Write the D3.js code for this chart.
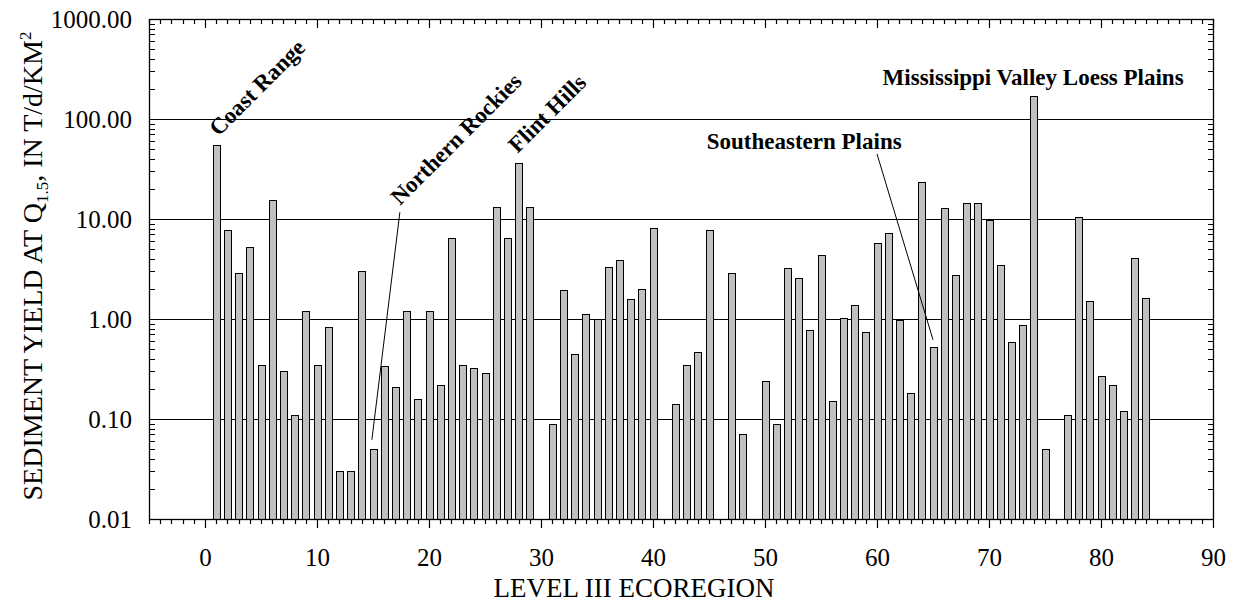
<!DOCTYPE html>
<html><head><meta charset="utf-8">
<script src="https://cdn.jsdelivr.net/npm/d3@7"></script>
<style>
body{margin:0;background:#fff}
svg text{font-family:"Liberation Serif","Times New Roman",Times,serif;fill:#000}
</style>
</head><body>
<svg id="chart" width="1234" height="603"></svg>
<script>
// ---- data ----
const ecoregions = [1,2,3,4,5,6,7,8,9,10,11,12,13,14,15,16,17,18,19,20,21,22,23,24,25,26,27,28,29,
  31,32,33,34,35,36,37,38,39,40,42,43,44,45,47,48,50,51,52,53,54,55,56,57,58,59,60,
  61,62,63,64,65,66,67,68,69,70,71,72,73,74,75,77,78,79,80,81,82,83,84];
const sedimentYield = [55,7.7,2.9,5.2,0.35,15.4,0.30,0.11,1.2,0.35,0.84,0.03,0.03,3.0,0.05,0.34,0.21,1.2,0.16,1.2,0.22,6.5,0.35,0.32,0.29,13.2,6.4,36.5,13.2,
  0.09,1.97,0.45,1.13,1.0,3.3,3.86,1.6,1.98,8.1,0.14,0.35,0.47,7.8,2.86,0.07,0.24,0.09,3.24,2.57,0.78,4.4,0.15,1.02,1.38,0.74,5.8,
  7.2,0.97,0.18,23.3,0.52,13.0,2.74,14.6,14.6,9.7,3.5,0.59,0.88,170,0.05,0.11,10.4,1.51,0.27,0.22,0.12,4.07,1.62];
const yTickValues = [0.01,0.1,1,10,100,1000];
const xTickValues = [0,10,20,30,40,50,60,70,80,90];
const xMinorTicks = d3.range(-5,91,1);
const gridValues = [0.1,1,10,100];
const xTitle = "LEVEL III ECOREGION";
// annotation labels: text, x (ecoregion units), y (yield), rotation
const labelNames = ["Coast Range","Northern Rockies","Flint Hills","Southeastern Plains","Mississippi Valley Loess Plains"];
const labelX = [1.2,17.4,27.9,44.8,60.5];
const labelY = [66,13.5,44.7,50,219];
const labelRot = [-45,-45,-45,0,0];
// leader lines: from (x1,y1) to (x2,y2) in data units
const leaderX1 = [17.4,60.0];
const leaderY1 = [11.7,44.7];
const leaderX2 = [14.9,65.0];
const leaderY2 = [0.062,0.62];

// ---- layout ----
const L=149, R=1213, T=19, B=519;
const svg = d3.select("#chart");
const x = d3.scaleLinear().domain([-5,90]).range([L,R]);
const y = d3.scaleLog().domain([0.01,1000]).range([B,T]);
const yMinor = y.ticks().filter(v => !yTickValues.some(m => Math.abs(m-v)/m < 1e-9));
const px = v => Math.round(v)+0.5;

// grid lines
svg.append("g").selectAll("line").data(gridValues).join("line")
  .attr("x1",L).attr("x2",R).attr("y1",d=>px(y(d))).attr("y2",d=>px(y(d)))
  .attr("stroke","#000").attr("stroke-width",1);

// bars
const bw = (x(1)-x(0))*0.6;
svg.append("g").selectAll("rect").data(ecoregions.map((e,i)=>({e,v:sedimentYield[i]}))).join("rect")
  .attr("x",d=>px(x(d.e)-bw/2)).attr("width",Math.round(bw))
  .attr("y",d=>px(y(d.v))).attr("height",d=>Math.round(y(0.01))-Math.round(y(d.v)))
  .attr("fill","#c0c0c0").attr("stroke","#000").attr("stroke-width",1);

// tick marks drawn as paths
function tickPath(vals, scale, orient, len){
  return vals.map(v=>{
    const p = px(scale(v));
    if(orient==="left")   return `M${L},${p}h${len}`;
    if(orient==="right")  return `M${R+1},${p}h${-len}`;
    if(orient==="top")    return `M${p},${T}v${len}`;
    return `M${p},${B+1}v${len}`;
  }).join("");
}
const xMinorOnly = xMinorTicks.filter(v=>v%10!==0);
const tickSpecs = [
  [yMinor,y,"left",6],[yTickValues,y,"left",9],
  [yMinor,y,"right",6],[yTickValues,y,"right",9],
  [xMinorOnly,x,"top",5],[xTickValues,x,"top",9],
  [xMinorOnly,x,"bottom",4],[xTickValues,x,"bottom",8]
];
svg.append("g").selectAll("path").data(tickSpecs).join("path")
  .attr("d",s=>tickPath(s[0],s[1],s[2],s[3]))
  .attr("fill","none").attr("stroke","#000").attr("stroke-width",1.2);

// tick labels via d3 axes (ticks hidden)
svg.append("g").attr("transform",`translate(${L},0)`)
  .call(d3.axisLeft(y).tickValues(yTickValues).tickSize(0).tickPadding(17).tickFormat(d3.format(".2f")))
  .call(g=>{g.select(".domain").remove(); g.selectAll("line").remove(); g.selectAll("text").attr("font-size",25);});
svg.append("g").attr("transform",`translate(0,${B})`)
  .call(d3.axisBottom(x).tickValues(xTickValues).tickSize(0).tickPadding(29).tickFormat(d3.format("d")))
  .call(g=>{g.select(".domain").remove(); g.selectAll("line").remove(); g.selectAll("text").attr("font-size",25);});

// frame
svg.append("rect").attr("x",L+0.5).attr("y",T+0.5).attr("width",R-L).attr("height",B-T)
  .attr("fill","none").attr("stroke","#000").attr("stroke-width",1.3);

// axis titles
svg.append("text").attr("x",634).attr("y",597).attr("text-anchor","middle")
  .attr("font-size",27).text(xTitle);
const yt = svg.append("text").attr("transform","translate(42,266) rotate(-90)")
  .attr("text-anchor","middle").attr("font-size",28);
yt.append("tspan").text("SEDIMENT YIELD AT Q");
yt.append("tspan").attr("font-size",17).attr("dy",6).text("1.5");
yt.append("tspan").attr("dy",-6).text(", IN T/d/KM");
yt.append("tspan").attr("font-size",17).attr("dy",-11).text("2");

// leader lines
svg.append("g").selectAll("line").data(leaderX1.map((d,i)=>i)).join("line")
  .attr("x1",i=>x(leaderX1[i])).attr("y1",i=>y(leaderY1[i]))
  .attr("x2",i=>x(leaderX2[i])).attr("y2",i=>y(leaderY2[i]))
  .attr("stroke","#000").attr("stroke-width",1);

// annotation labels
svg.append("g").selectAll("text").data(labelNames.map((d,i)=>i)).join("text")
  .attr("transform",i=>`translate(${x(labelX[i])},${y(labelY[i])}) rotate(${labelRot[i]})`)
  .attr("font-size",23).attr("font-weight","bold").text(i=>labelNames[i]);
</script>
</body></html>
